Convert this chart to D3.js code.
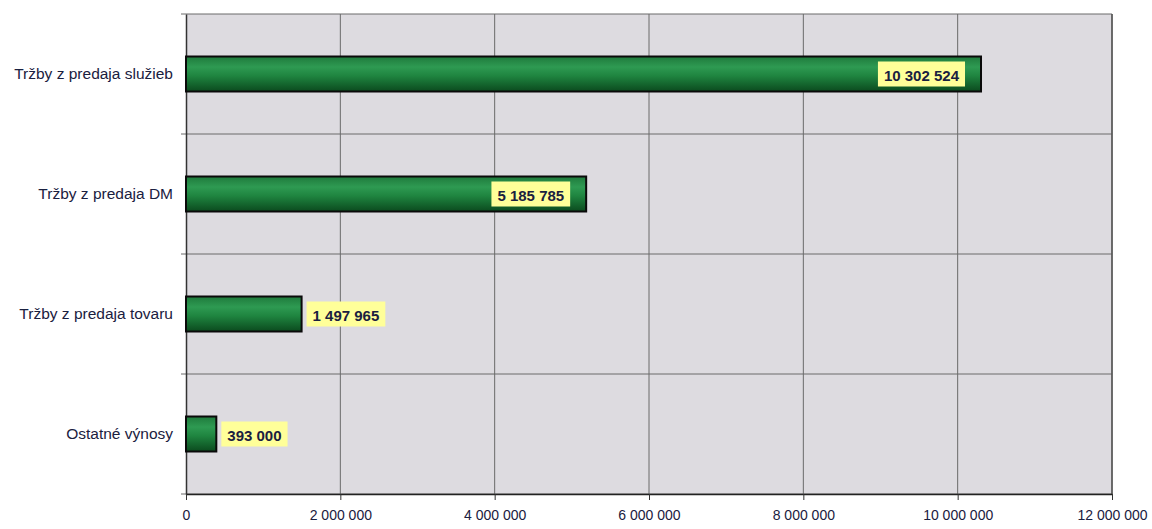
<!DOCTYPE html>
<html><head><meta charset="utf-8">
<script src="https://cdn.jsdelivr.net/npm/d3@7"></script>
<style>body{margin:0;background:#fff;}svg{display:block;}</style>
</head><body>
<svg id="c" width="1152" height="529"></svg>
<script>
const categories = ["Tržby z predaja služieb","Tržby z predaja DM","Tržby z predaja tovaru","Ostatné výnosy"];
const values = [10302524, 5185785, 1497965, 393000];
const xTicks = [0,2000000,4000000,6000000,8000000,10000000,12000000];

const svg = d3.select("#c");
const L=186, R=1112, T=14, B=494;
const x = d3.scaleLinear().domain([0,12000000]).range([L,R]);
const y = d3.scaleBand().domain(categories).range([T,B]).paddingInner(0).paddingOuter(0);
const fmt = v => d3.format(",")(v).replace(/,/g," ");
const navy = "#1a2040";

const defs = svg.append("defs");
const g = defs.append("linearGradient").attr("id","bg").attr("x1",0).attr("y1",0).attr("x2",0).attr("y2",1);
[[0,"#1f7a3c"],[0.3,"#2e9a52"],[0.55,"#1f8540"],[1,"#0b4a1e"]].forEach(s=>g.append("stop").attr("offset",s[0]).attr("stop-color",s[1]));

svg.append("rect").attr("x",L).attr("y",T).attr("width",R-L).attr("height",B-T).attr("fill","#dddbe0");

// vertical gridlines
svg.append("g").selectAll("line").data(xTicks.slice(1)).join("line")
  .attr("x1",d=>x(d)).attr("x2",d=>x(d)).attr("y1",T).attr("y2",B)
  .attr("stroke","#6a6a6a").attr("stroke-width",1);
// horizontal boundaries
const bounds = categories.map(c=>y(c)).concat([B]);
svg.append("g").selectAll("line").data(bounds).join("line")
  .attr("x1",L-5).attr("x2",R).attr("y1",d=>d).attr("y2",d=>d)
  .attr("stroke","#6a6a6a").attr("stroke-width",1);
// right border
svg.append("line").attr("x1",R).attr("x2",R).attr("y1",T).attr("y2",B).attr("stroke","#555").attr("stroke-width",1.5);

// x axis
const xa = svg.append("g").attr("transform",`translate(0,${B})`)
  .call(d3.axisBottom(x).tickValues(xTicks).tickFormat(fmt).tickSize(6).tickSizeOuter(0));
xa.select(".domain").attr("stroke","#222").attr("stroke-width",1.5);
xa.selectAll(".tick line").attr("stroke","#333");
xa.selectAll("text").attr("font-family","Liberation Sans, Arial, sans-serif").attr("font-size",14).attr("fill",navy).attr("dy","1.2em");

// y axis
const ya = svg.append("g").attr("transform",`translate(${L},0)`)
  .call(d3.axisLeft(y).tickSize(0).tickPadding(13));
ya.select(".domain").attr("stroke","#333").attr("stroke-width",1.5);
ya.selectAll("text").attr("font-family","Liberation Sans, Arial, sans-serif").attr("font-size",15.5).attr("fill",navy);

// bars
const bh = 35;
svg.append("g").selectAll("rect").data(values).join("rect")
  .attr("x",x(0)).attr("y",(d,i)=>y(categories[i])+y.bandwidth()/2-bh/2)
  .attr("width",d=>x(d)-x(0)).attr("height",bh)
  .attr("fill","url(#bg)").attr("stroke","#0a0a0a").attr("stroke-width",2);

// labels
const lg = svg.append("g");
values.forEach((v,i)=>{
  const cy = y(categories[i])+y.bandwidth()/2;
  const t = lg.append("text").text(fmt(v))
    .attr("font-family","Liberation Sans, Arial, sans-serif").attr("font-weight","bold")
    .attr("font-size",15).attr("fill",navy).attr("dominant-baseline","central").attr("y",cy+1);
  const w = t.node().getComputedTextLength();
  const bw = w+12, bhh = 25;
  const inside = x(v)-x(0) > bw+40;
  const bx = inside ? x(v)-16-bw : x(v)+5;
  t.attr("x",bx+6);
  lg.insert("rect","text").attr("x",bx).attr("y",cy-bhh/2).attr("width",bw).attr("height",bhh).attr("fill","#ffff99");
});
</script>
</body></html>
